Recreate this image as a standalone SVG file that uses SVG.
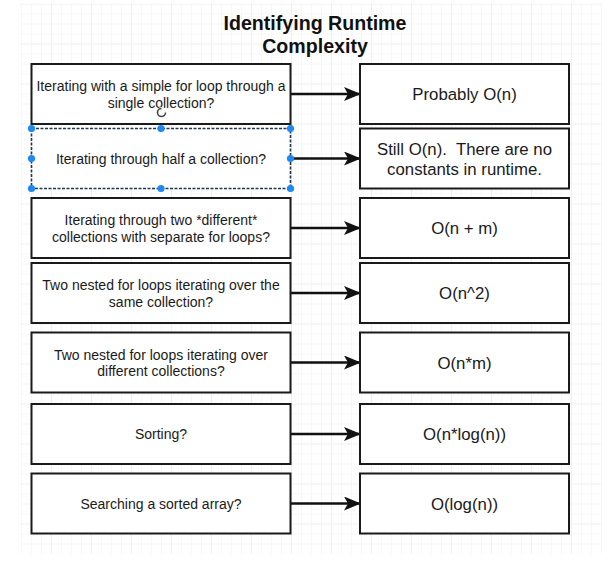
<svg xmlns="http://www.w3.org/2000/svg" width="611" height="566" viewBox="0 0 611 566">
  <defs>
    <pattern id="grid" patternUnits="userSpaceOnUse" x="11" y="3.5" width="40" height="40">
      <path d="M10.5 0V40M20.5 0V40M30.5 0V40M0 10.5H40M0 20.5H40M0 30.5H40" stroke="#f7f7f7" stroke-width="1" fill="none"/>
      <path d="M0.5 0V40M0 0.5H40" stroke="#eeeeee" stroke-width="1" fill="none"/>
    </pattern>
    <marker id="arrow" viewBox="0 0 17 14" refX="16" refY="7" markerWidth="17" markerHeight="14" markerUnits="userSpaceOnUse" orient="auto">
      <path d="M0 0 L17 7 L0 14 L4 7 Z" fill="#111"/>
    </marker>
    <style>
      .box { fill: #fff; stroke: #1a1a1a; stroke-width: 2; }
      .sel { fill: #fff; stroke: #1f3550; stroke-width: 1.6; stroke-dasharray: 3 1.5; }
      .handle { fill: #1e88f5; }
      .q { font-family: "Liberation Sans", Arial, Helvetica, sans-serif; font-size: 14px; fill: #1a1a1a; text-anchor: middle; }
      .a { font-family: "Liberation Sans", Arial, Helvetica, sans-serif; font-size: 16.8px; fill: #1a1a1a; text-anchor: middle; white-space: pre; }
      .title { font-family: "Liberation Sans", Arial, Helvetica, sans-serif; font-size: 19.6px; font-weight: bold; fill: #111; text-anchor: middle; }
      .conn { stroke: #111; stroke-width: 2.6; fill: none; }
    </style>
  </defs>
  <rect width="611" height="566" fill="#fff"/>
  <rect x="20" y="3.5" width="582" height="550" fill="url(#grid)"/>

  <g id="title">
    <text class="title" x="315" y="30">Identifying Runtime</text>
    <text class="title" x="315" y="53">Complexity</text>
  </g>

  <g id="connectors">
    <line class="conn" x1="291" y1="94" x2="360" y2="94" marker-end="url(#arrow)"/>
    <line class="conn" x1="291" y1="158.5" x2="360" y2="158.5" marker-end="url(#arrow)"/>
    <line class="conn" x1="291" y1="228" x2="360" y2="228" marker-end="url(#arrow)"/>
    <line class="conn" x1="291" y1="293" x2="360" y2="293" marker-end="url(#arrow)"/>
    <line class="conn" x1="291" y1="362.5" x2="360" y2="362.5" marker-end="url(#arrow)"/>
    <line class="conn" x1="291" y1="434" x2="360" y2="434" marker-end="url(#arrow)"/>
    <line class="conn" x1="291" y1="503.5" x2="360" y2="503.5" marker-end="url(#arrow)"/>
  </g>

  <g id="q1">
    <rect class="box" x="31.5" y="64" width="259" height="60"/>
    <text class="q" x="161" y="91">Iterating with a simple for loop through a</text>
    <text class="q" x="161" y="107.5">single collection?</text>
  </g>
  <g id="q2">
    <rect class="sel" x="31.5" y="128.5" width="259" height="60"/>
    <text class="q" x="161" y="163.5">Iterating through half a collection?</text>
    <g class="handles">
      <circle class="handle" cx="31.5" cy="128.5" r="3.6"/>
      <circle class="handle" cx="161" cy="128.5" r="3.6"/>
      <circle class="handle" cx="290.5" cy="128.5" r="3.6"/>
      <circle class="handle" cx="31.5" cy="158.5" r="3.6"/>
      <circle class="handle" cx="290.5" cy="158.5" r="3.6"/>
      <circle class="handle" cx="31.5" cy="188.5" r="3.6"/>
      <circle class="handle" cx="161" cy="188.5" r="3.6"/>
      <circle class="handle" cx="290.5" cy="188.5" r="3.6"/>
    </g>
  </g>
  <g id="q3">
    <rect class="box" x="31.5" y="198" width="259" height="60"/>
    <text class="q" x="161" y="225">Iterating through two *different*</text>
    <text class="q" x="161" y="241.5">collections with separate for loops?</text>
  </g>
  <g id="q4">
    <rect class="box" x="31.5" y="263" width="259" height="60"/>
    <text class="q" x="161" y="290">Two nested for loops iterating over the</text>
    <text class="q" x="161" y="306.5">same collection?</text>
  </g>
  <g id="q5">
    <rect class="box" x="31.5" y="332.5" width="259" height="60"/>
    <text class="q" x="161" y="359.5">Two nested for loops iterating over</text>
    <text class="q" x="161" y="376">different collections?</text>
  </g>
  <g id="q6">
    <rect class="box" x="31.5" y="404" width="259" height="60"/>
    <text class="q" x="161" y="439">Sorting?</text>
  </g>
  <g id="q7">
    <rect class="box" x="31.5" y="473.5" width="259" height="60"/>
    <text class="q" x="161" y="508.5">Searching a sorted array?</text>
  </g>

  <g id="a1">
    <rect class="box" x="360" y="64" width="209" height="60"/>
    <text class="a" x="464.5" y="100">Probably O(n)</text>
  </g>
  <g id="a2">
    <rect class="box" x="360" y="128.5" width="209" height="60"/>
    <text class="a" x="464.5" y="154.5" xml:space="preserve">Still O(n).  There are no</text>
    <text class="a" x="464.5" y="174.5">constants in runtime.</text>
  </g>
  <g id="a3">
    <rect class="box" x="360" y="198" width="209" height="60"/>
    <text class="a" x="464.5" y="234">O(n + m)</text>
  </g>
  <g id="a4">
    <rect class="box" x="360" y="263" width="209" height="60"/>
    <text class="a" x="464.5" y="299">O(n^2)</text>
  </g>
  <g id="a5">
    <rect class="box" x="360" y="332.5" width="209" height="60"/>
    <text class="a" x="464.5" y="368.5">O(n*m)</text>
  </g>
  <g id="a6">
    <rect class="box" x="360" y="404" width="209" height="60"/>
    <text class="a" x="464.5" y="440">O(n*log(n))</text>
  </g>
  <g id="a7">
    <rect class="box" x="360" y="473.5" width="209" height="60"/>
    <text class="a" x="464.5" y="509.5">O(log(n))</text>
  </g>

  <g id="cursor">
    <circle cx="161.5" cy="112.5" r="4" fill="none" stroke="#fff" stroke-width="3"/>
    <path d="M165.5 112.5 A4 4 0 1 1 161.5 108.5" fill="none" stroke="#444" stroke-width="1.6"/>
  </g>
</svg>
